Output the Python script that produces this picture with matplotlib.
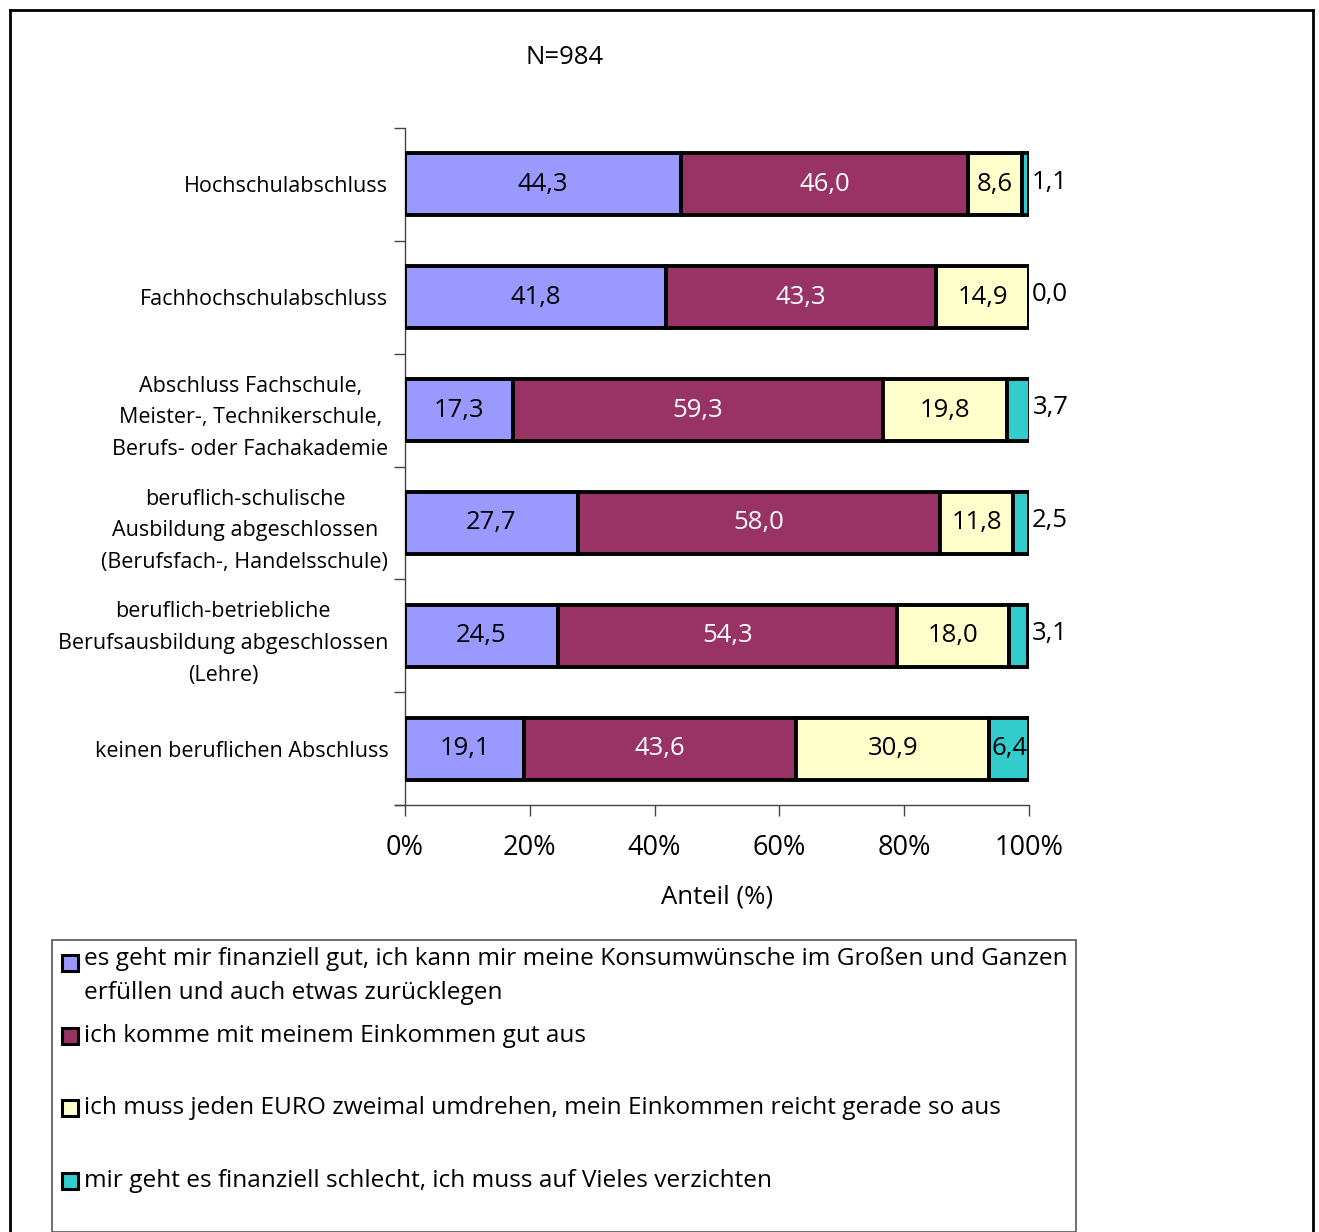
import matplotlib
matplotlib.use("Agg")
import matplotlib.pyplot as plt
from matplotlib.patches import Rectangle
from matplotlib.lines import Line2D
import numpy as np

plt.rcParams['font.family'] = ['Open Sans', 'DejaVu Sans']

categories = [
    "Hochschulabschluss",
    "Fachhochschulabschluss",
    "Abschluss Fachschule,\nMeister-, Technikerschule,\nBerufs- oder Fachakademie",
    "beruflich-schulische\nAusbildung abgeschlossen\n(Berufsfach-, Handelsschule)",
    "beruflich-betriebliche\nBerufsausbildung abgeschlossen\n(Lehre)",
    "keinen beruflichen Abschluss",
]
gut = [44.3, 41.8, 17.3, 27.7, 24.5, 19.1]
auskommen = [46.0, 43.3, 59.3, 58.0, 54.3, 43.6]
umdrehen = [8.6, 14.9, 19.8, 11.8, 18.0, 30.9]
schlecht = [1.1, 0.0, 3.7, 2.5, 3.1, 6.4]

series = [gut, auskommen, umdrehen, schlecht]
colors = ["#9999FF", "#993366", "#FFFFCC", "#33CCCC"]
text_colors = ["black", "white", "black", "black"]
legend_labels = [
    "es geht mir finanziell gut, ich kann mir meine Konsumwünsche im Großen und Ganzen\nerfüllen und auch etwas zurücklegen",
    "ich komme mit meinem Einkommen gut aus",
    "ich muss jeden EURO zweimal umdrehen, mein Einkommen reicht gerade so aus",
    "mir geht es finanziell schlecht, ich muss auf Vieles verzichten",
]
xticks = [0, 20, 40, 60, 80, 100]
title = "N=984"
xlabel = "Anteil (%)"

W, H = 1319, 1232
fig = plt.figure(figsize=(W / 100, H / 100), dpi=100)


def fx(px):
    return px / W


def fy(py):
    return 1 - py / H


ax = fig.add_axes([fx(405), fy(805), fx(1029) - fx(405), fy(128) - fy(805)])

y = np.arange(len(categories))
left = np.zeros(len(categories))
value_fs = 18.5
for vals, col, tcol in zip(series, colors, text_colors):
    vals = np.array(vals)
    ax.barh(y, vals, left=left, height=0.55, color=col, edgecolor="black",
            linewidth=2.8, zorder=3)
    for yi, (l, v) in enumerate(zip(left, vals)):
        lab = f"{v:.1f}".replace(".", ",")
        if col == colors[3] and v < 5:
            # small segments are labelled just right of the bar end
            ax.text(l + v + 0.5, yi - 0.02, lab, ha="left", va="center",
                    fontsize=value_fs, color="black", zorder=4, clip_on=False)
        else:
            ax.text(l + v / 2, yi, lab, ha="center", va="center",
                    fontsize=value_fs, color=tcol, zorder=4)
    left = left + vals

ax.set_xlim(0, 100)
ax.set_ylim(len(categories) - 0.5, -0.5)

# category ticks sit on the boundaries, labels in between
ax.set_yticks(np.arange(len(categories) + 1) - 0.5)
ax.set_yticklabels([])
ax.set_yticks(y, minor=True)
ax.set_yticklabels(categories, minor=True, fontsize=15.5, linespacing=1.66)
ax.tick_params(axis="y", which="minor", length=0, pad=12)
ax.tick_params(axis="y", which="major", length=8, width=1, color="#444444")
for lab in ax.get_yticklabels(minor=True):
    lab.set_horizontalalignment("right")
    lab.set_multialignment("center")

ax.set_xticks(xticks)
ax.set_xticklabels([f"{t}%" for t in xticks], fontsize=19.5)
ax.tick_params(axis="x", length=8, width=1, color="#444444", pad=13)
ax.set_xlabel(xlabel, fontsize=18.5, labelpad=16)

for s in ["top", "right"]:
    ax.spines[s].set_visible(False)
for s in ["left", "bottom"]:
    ax.spines[s].set_color("#444444")
    ax.spines[s].set_linewidth(1)
ax.spines["bottom"].set_bounds(-1.6, 100)

fig.text(fx(565), fy(57), title, ha="center", va="center", fontsize=18.5)

# legend box
fig.add_artist(Rectangle((fx(52), fy(1232)), fx(1076) - fx(52), fy(940) - fy(1232),
                         transform=fig.transFigure, facecolor="white",
                         edgecolor="#555555", linewidth=1.2))
legend_y = [963, 1036, 1108, 1181]
for ly, col, lab in zip(legend_y, colors, legend_labels):
    fig.add_artist(Rectangle((fx(62), fy(ly + 8)), fx(16), fy(0) - fy(16),
                             transform=fig.transFigure, facecolor=col,
                             edgecolor="black", linewidth=2.2))
    if "\n" in lab:
        fig.text(fx(84), fy(ly - 16), lab, ha="left", va="top", fontsize=17.6,
                 linespacing=1.55)
    else:
        fig.text(fx(84), fy(ly), lab, ha="left", va="center", fontsize=17.6)

# outer frame
for xs, ys in [([10, 10], [10, 1232]), ([10, 1313], [10, 10]), ([1313, 1313], [10, 1232])]:
    fig.add_artist(Line2D([fx(v) for v in xs], [fy(v) for v in ys],
                          transform=fig.transFigure, color="black", linewidth=2))

fig.savefig("out.png", dpi=100)
